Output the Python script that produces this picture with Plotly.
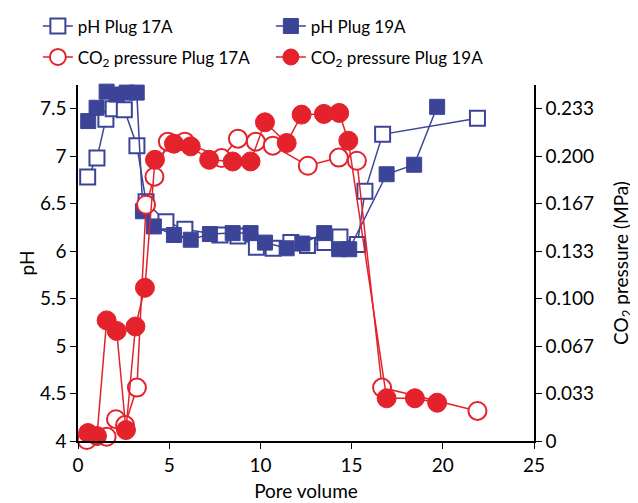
import plotly.graph_objects as go

# ---- data ----
pv_ph17 = [0.53, 1.04, 1.53, 1.93, 2.54, 3.23, 3.73, 4.82, 5.86, 7.78, 8.77, 9.78, 10.7, 11.67, 12.58, 13.53, 14.36, 15.32, 15.73, 16.7, 21.9]
ph17 = [6.78, 6.98, 7.39, 7.50, 7.49, 7.11, 6.52, 6.31, 6.23, 6.17, 6.16, 6.04, 6.03, 6.09, 6.06, 6.09, 6.15, 6.07, 6.63, 7.23, 7.40]

pv_ph19 = [0.56, 1.02, 1.57, 2.12, 2.67, 3.22, 3.56, 4.16, 5.26, 6.18, 7.23, 8.48, 9.46, 10.25, 11.44, 12.3, 13.5, 14.32, 14.87, 16.92, 18.43, 19.69]
ph19 = [7.37, 7.51, 7.68, 7.65, 7.67, 7.67, 6.42, 6.26, 6.17, 6.12, 6.18, 6.19, 6.19, 6.09, 6.03, 6.08, 6.19, 6.02, 6.02, 6.81, 6.91, 7.52]

pv_co17 = [0.48, 1.57, 2.08, 2.58, 3.23, 3.73, 4.19, 4.93, 5.86, 7.87, 8.77, 9.75, 10.68, 12.6, 14.3, 15.29, 16.67, 21.9]
co17 = [0.0007, 0.003, 0.0153, 0.0112, 0.0375, 0.1659, 0.1856, 0.2102, 0.2102, 0.1987, 0.2123, 0.2102, 0.2074, 0.1933, 0.199, 0.1968, 0.0375, 0.0211]

pv_co19 = [0.55, 1.04, 1.57, 2.12, 2.63, 3.15, 3.67, 4.22, 5.26, 6.18, 7.19, 8.48, 9.46, 10.25, 11.44, 12.26, 13.48, 14.32, 14.82, 16.92, 18.47, 19.69]
co19 = [0.0056, 0.0035, 0.0847, 0.0773, 0.0077, 0.0804, 0.1076, 0.1975, 0.2088, 0.2069, 0.1975, 0.1963, 0.1963, 0.2238, 0.2093, 0.2292, 0.2297, 0.2304, 0.2109, 0.030, 0.030, 0.0269]

x_ticks = [0, 5, 10, 15, 20, 25]
ph_ticks = [4, 4.5, 5, 5.5, 6, 6.5, 7, 7.5]
ph_ticktext = ["4", "4.5", "5", "5.5", "6", "6.5", "7", "7.5"]
p_ticks = [0, 1/30, 2/30, 3/30, 4/30, 5/30, 6/30, 7/30]
p_ticktext = ["0", "0.033", "0.067", "0.100", "0.133", "0.167", "0.200", "0.233"]

BLUE = "#3c4498"
RED = "#e3222b"
FONT = "Lato"

fig = go.Figure()
fig.add_trace(go.Scatter(
    x=pv_ph17, y=ph17, mode="lines+markers", name="pH Plug 17A", cliponaxis=False,
    line=dict(color=BLUE, width=1.5),
    marker=dict(symbol="square", size=15, color="white", line=dict(color=BLUE, width=2)),
    legend="legend"))
fig.add_trace(go.Scatter(
    x=pv_ph19, y=ph19, mode="lines+markers", name="pH Plug 19A", cliponaxis=False,
    line=dict(color=BLUE, width=1.5),
    marker=dict(symbol="square", size=15, color=BLUE, line=dict(color=BLUE, width=1)),
    legend="legend"))
fig.add_trace(go.Scatter(
    x=pv_co17, y=co17, mode="lines+markers", name="CO<sub>2</sub> pressure Plug 17A", cliponaxis=False,
    line=dict(color=RED, width=1.5), yaxis="y2",
    marker=dict(symbol="circle", size=18, color="white", line=dict(color=RED, width=2)),
    legend="legend2"))
fig.add_trace(go.Scatter(
    x=pv_co19, y=co19, mode="lines+markers", name="CO<sub>2</sub> pressure Plug 19A", cliponaxis=False,
    line=dict(color=RED, width=1.5), yaxis="y2",
    marker=dict(symbol="circle", size=19, color=RED, line=dict(color=RED, width=1)),
    legend="legend2"))

axis_common = dict(showgrid=False, zeroline=False, showline=True, linecolor="black", linewidth=1.5,
                   ticks="outside", ticklen=6, tickcolor="black",
                   tickfont=dict(size=19, color="black", family=FONT))

# the page body has an 8px default margin, so the figure is drawn 8px smaller
fig.update_layout(
    width=630, height=495,
    margin=dict(l=70, r=104, t=77, b=62, autoexpand=False),
    plot_bgcolor="white", paper_bgcolor="white",
    font=dict(family=FONT, size=17, color="black"),
    xaxis=dict(range=[0, 25], tickvals=x_ticks,
               title=dict(text="Pore volume", standoff=10, font=dict(size=19)), **axis_common),
    yaxis=dict(range=[4, 7.75], tickvals=ph_ticks, ticktext=ph_ticktext,
               title=dict(text="pH", standoff=0, font=dict(size=19)), **axis_common),
    yaxis2=dict(range=[0, 0.25], tickvals=p_ticks, ticktext=p_ticktext, overlaying="y", side="right",
                title=dict(text="CO<sub>2</sub> pressure (MPa)", standoff=22, font=dict(size=19)), **axis_common),
    legend=dict(orientation="h", x=-0.088, xanchor="left", y=1.215, yanchor="top",
                entrywidth=188, font=dict(size=17), bgcolor="rgba(0,0,0,0)", itemwidth=30),
    legend2=dict(orientation="h", x=-0.088, xanchor="left", y=1.128, yanchor="top",
                 entrywidth=188, font=dict(size=17), bgcolor="rgba(0,0,0,0)", itemwidth=30),
)

fig.write_html("out.html")
